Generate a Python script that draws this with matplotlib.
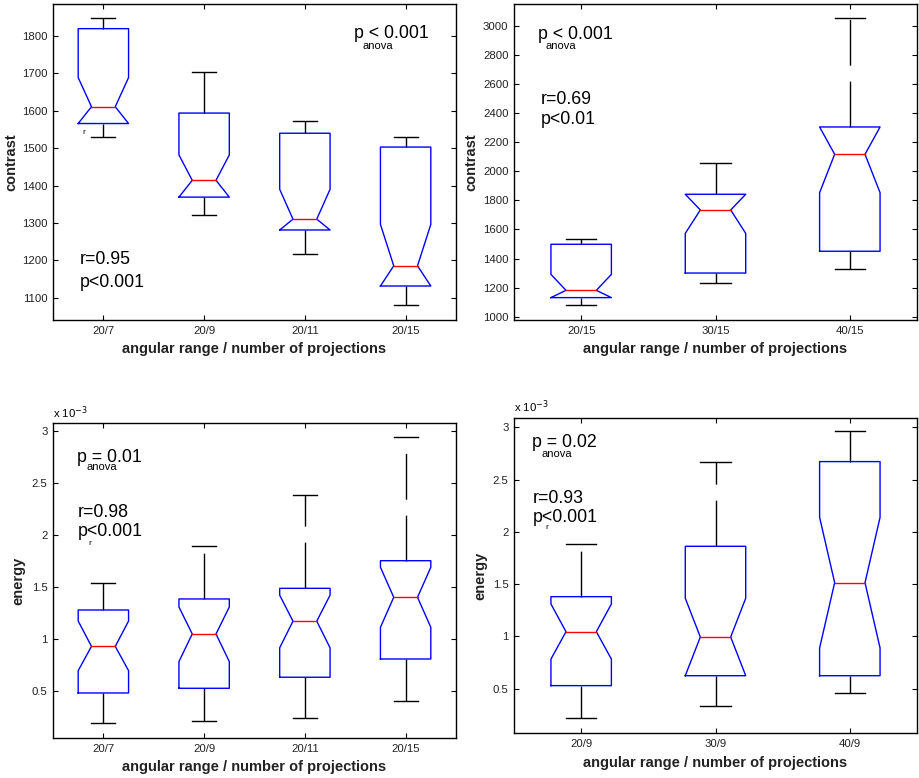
import numpy as np
import matplotlib.pyplot as plt

plt.rcParams['font.family'] = ['Liberation Sans', 'DejaVu Sans']

# box statistics:
# lower whisker, q1, notch low, median, notch high, q3, upper whisker
a_labels = ['20/7', '20/9', '20/11', '20/15']
a_lo = [1530, 1322, 1216, 1080]
a_q1 = [1566, 1369, 1281, 1131]
a_nlo = [1566, 1369, 1281, 1131]
a_med = [1611, 1414, 1310, 1185]
a_nhi = [1689, 1482, 1390, 1296]
a_q3 = [1820, 1594, 1540, 1503]
a_hi = [1849, 1703, 1574, 1531]

b_labels = ['20/15', '30/15', '40/15']
b_lo = [1080, 1232, 1328]
b_q1 = [1131, 1300, 1450]
b_nlo = [1131, 1573, 1853]
b_med = [1181, 1734, 2117]
b_nhi = [1291, 1842, 2305]
b_q3 = [1498, 1842, 2305]
b_hi = [1532, 2057, 3055]

# energy values in units of 1e-3
c_labels = ['20/7', '20/9', '20/11', '20/15']
c_lo = [0.193, 0.219, 0.245, 0.404]
c_q1 = [0.484, 0.529, 0.635, 0.810]
c_nlo = [0.698, 0.785, 0.917, 1.114]
c_med = [0.931, 1.050, 1.173, 1.402]
c_nhi = [1.174, 1.309, 1.422, 1.690]
c_q3 = [1.280, 1.386, 1.488, 1.753]
c_hi = [1.536, 1.891, 2.380, 2.936]

d_labels = ['20/9', '30/9', '40/9']
d_lo = [0.216, 0.334, 0.455]
d_q1 = [0.529, 0.624, 0.624]
d_nlo = [0.783, 0.624, 0.889]
d_med = [1.045, 0.994, 1.514]
d_nhi = [1.310, 1.365, 2.139]
d_q3 = [1.380, 1.862, 2.672]
d_hi = [1.884, 2.672, 2.962]

XLABEL = 'angular range / number of projections'
ANNOT_FS = 12.8
TICK_FS = 8.2


def draw_boxes(ax, lo, q1, nlo, med, nhi, q3, hi, half, inner):
    for i in range(len(med)):
        x = i + 1
        # whiskers (dashed like matlab) and caps
        ax.plot([x, x], [q3[i], hi[i]], color='black', lw=1, dashes=(33, 11.5))
        ax.plot([x, x], [q1[i], lo[i]], color='black', lw=1, dashes=(33, 11.5))
        ax.plot([x - inner, x + inner], [hi[i], hi[i]], color='black', lw=1)
        ax.plot([x - inner, x + inner], [lo[i], lo[i]], color='black', lw=1)
        # notched box outline
        xs = [x - half, x - half, x - inner, x - half, x - half,
              x + half, x + half, x + inner, x + half, x + half, x - half]
        ys = [q1[i], nlo[i], med[i], nhi[i], q3[i],
              q3[i], nhi[i], med[i], nlo[i], q1[i], q1[i]]
        ax.plot(xs, ys, color='blue', lw=1)
        ax.plot([x - inner, x + inner], [med[i], med[i]], color='red', lw=1)


def style_axes(ax, labels, ylabel, ylab_x, xlab_y):
    ax.set_xticks(range(1, len(labels) + 1))
    ax.set_xticklabels(labels)
    ax.tick_params(direction='in', top=True, right=True, length=3.5,
                   width=0.8, labelsize=TICK_FS, labelcolor='#222222', pad=4)
    for s in ax.spines.values():
        s.set_linewidth(1.0)
    ax.set_xlabel(XLABEL, fontsize=10.5, fontweight='bold', color='#222222')
    ax.xaxis.set_label_coords(0.5, xlab_y)
    ax.set_ylabel(ylabel, fontsize=10.5, fontweight='bold', color='#222222')
    ax.yaxis.set_label_coords(ylab_x, 0.5)


fig = plt.figure(figsize=(9.19, 7.78), dpi=100)

# top left: contrast, 20/x
ax1 = fig.add_axes([53 / 919, 1 - 320 / 778, 403 / 919, 316 / 778])
draw_boxes(ax1, a_lo, a_q1, a_nlo, a_med, a_nhi, a_q3, a_hi, 0.25, 0.118)
ax1.set_xlim(0.5, 4.5)
ax1.set_ylim(1040, 1886)
ax1.set_yticks(np.arange(1100, 1801, 100))
style_axes(ax1, a_labels, 'contrast', -0.087, -0.070)
ax1.text(0.747, 0.908, 'p < 0.001', transform=ax1.transAxes, fontsize=ANNOT_FS, va='center')
ax1.text(0.767, 0.867, 'anova', transform=ax1.transAxes, fontsize=8, va='center')
ax1.text(0.067, 0.19, 'r=0.95', transform=ax1.transAxes, fontsize=ANNOT_FS, va='center')
ax1.text(0.067, 0.12, 'p<0.001', transform=ax1.transAxes, fontsize=ANNOT_FS, va='center')
ax1.text(0.074, 0.592, 'r', transform=ax1.transAxes, fontsize=6, va='center')

# top right: contrast, x/15
ax2 = fig.add_axes([514 / 919, 1 - 320 / 778, 403 / 919, 316 / 778])
draw_boxes(ax2, b_lo, b_q1, b_nlo, b_med, b_nhi, b_q3, b_hi, 0.225, 0.113)
ax2.set_xlim(0.5, 3.5)
ax2.set_ylim(977, 3151)
ax2.set_yticks(np.arange(1000, 3001, 200))
style_axes(ax2, b_labels, 'contrast', -0.089, -0.070)
ax2.text(0.06, 0.902, 'p < 0.001', transform=ax2.transAxes, fontsize=ANNOT_FS, va='center')
ax2.text(0.079, 0.867, 'anova', transform=ax2.transAxes, fontsize=8, va='center')
ax2.text(0.067, 0.699, 'r=0.69', transform=ax2.transAxes, fontsize=ANNOT_FS, va='center')
ax2.text(0.067, 0.636, 'p<0.01', transform=ax2.transAxes, fontsize=ANNOT_FS, va='center')

# bottom left: energy, 20/x
ax3 = fig.add_axes([53 / 919, 1 - 738 / 778, 403 / 919, 315 / 778])
draw_boxes(ax3, c_lo, c_q1, c_nlo, c_med, c_nhi, c_q3, c_hi, 0.25, 0.118)
ax3.set_xlim(0.5, 4.5)
ax3.set_ylim(0.052, 3.074)
ax3.set_yticks([0.5, 1, 1.5, 2, 2.5, 3])
ax3.set_yticklabels(['0.5', '1', '1.5', '2', '2.5', '3'])
style_axes(ax3, c_labels, 'energy', -0.069, -0.070)
ax3.text(0.0, 1.032, r'x 10$^{-3}$', transform=ax3.transAxes, fontsize=TICK_FS, va='center')
ax3.text(0.06, 0.892, 'p = 0.01', transform=ax3.transAxes, fontsize=ANNOT_FS, va='center')
ax3.text(0.082, 0.861, 'anova', transform=ax3.transAxes, fontsize=8, va='center')
ax3.text(0.062, 0.717, 'r=0.98', transform=ax3.transAxes, fontsize=ANNOT_FS, va='center')
ax3.text(0.062, 0.654, 'p<0.001', transform=ax3.transAxes, fontsize=ANNOT_FS, va='center')
ax3.text(0.089, 0.619, 'r', transform=ax3.transAxes, fontsize=6, va='center')

# bottom right: energy, x/9
ax4 = fig.add_axes([514 / 919, 1 - 733 / 778, 403 / 919, 315 / 778])
draw_boxes(ax4, d_lo, d_q1, d_nlo, d_med, d_nhi, d_q3, d_hi, 0.225, 0.113)
ax4.set_xlim(0.5, 3.5)
ax4.set_ylim(0.076, 3.089)
ax4.set_yticks([0.5, 1, 1.5, 2, 2.5, 3])
ax4.set_yticklabels(['0.5', '1', '1.5', '2', '2.5', '3'])
style_axes(ax4, d_labels, 'energy', -0.067, -0.073)
ax4.text(0.0, 1.035, r'x 10$^{-3}$', transform=ax4.transAxes, fontsize=TICK_FS, va='center')
ax4.text(0.045, 0.921, 'p = 0.02', transform=ax4.transAxes, fontsize=ANNOT_FS, va='center')
ax4.text(0.067, 0.887, 'anova', transform=ax4.transAxes, fontsize=8, va='center')
ax4.text(0.047, 0.746, 'r=0.93', transform=ax4.transAxes, fontsize=ANNOT_FS, va='center')
ax4.text(0.047, 0.683, 'p<0.001', transform=ax4.transAxes, fontsize=ANNOT_FS, va='center')
ax4.text(0.079, 0.651, 'r', transform=ax4.transAxes, fontsize=6, va='center')

fig.savefig('out.png', dpi=100)
